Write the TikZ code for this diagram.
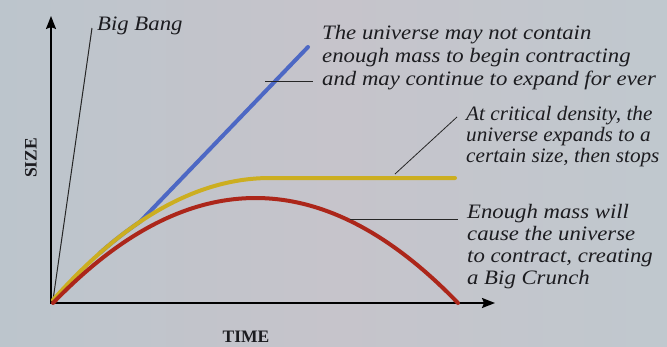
\documentclass[tikz,border=0pt]{standalone}
\usepackage{fontspec}
\setmainfont{Liberation Serif}
\newfontfamily\lblfont{Liberation Serif}[FakeStretch=1.11]
\newfontfamily\lblfontn{Liberation Serif}[FakeStretch=1.035]
\usetikzlibrary{arrows.meta}
\definecolor{bgL}{RGB}{188,197,204}
\definecolor{bgM}{RGB}{198,196,203}
\definecolor{bgR}{RGB}{192,200,206}
\definecolor{txt}{RGB}{28,28,32}
\definecolor{cblue}{RGB}{77,104,196}
\definecolor{cyellow}{RGB}{204,174,32}
\definecolor{cred}{RGB}{172,38,26}
\begin{document}
\begin{tikzpicture}[x=1pt,y=-1pt,
  axis/.style={line width=1.8pt, draw=black, {Stealth[length=13pt,width=10pt,inset=2pt]}-{Stealth[length=13pt,width=10pt,inset=2pt]}},
  curve/.style={line width=4pt, line cap=round, line join=round},
  leader/.style={line width=0.8pt, draw=black!85},
  lbl/.style={font=\lblfont\itshape\fontsize{20.5}{22}\selectfont, text=txt, inner sep=0pt, align=left, anchor=base west},
  axlbl/.style={font=\bfseries\fontsize{17.5}{20}\selectfont, text=txt, inner sep=0pt}]
\shade[left color=bgL, right color=bgR, middle color=bgM] (0,0) rectangle (667,346);
\useasboundingbox (0,0) rectangle (667,346);
% axes
\coordinate (O) at (51,303);
\coordinate (ytip) at (51,16);
\coordinate (xtip) at (495,303);
% Big Bang line
\coordinate (bbfoot) at (53,300);
\coordinate (bbtop) at (92,28);
\draw[line width=1pt, draw=black!85] (bbfoot) -- (bbtop);
\draw[axis] (ytip) -- (O) -- (xtip);
% curves
\coordinate (bend) at (308,47);
\draw[curve, draw=cblue] plot[domain=100:140, samples=12] (\x,{178+122*((270-\x)/217)^2}) -- (bend);
\draw[curve, draw=cyellow] plot[domain=53:270, samples=60] (\x,{178+122*((270-\x)/217)^2}) -- (455,178);
\draw[curve, draw=cred] plot[domain=53:458, samples=80] (\x,{198+105*((\x-255.5)/202.5)^2});
% labels (base anchor = baseline of last line)
\node[lbl] (bb) at (97,30) {Big Bang};
\node[lbl, font=\lblfont\itshape\fontsize{20.5}{23}\selectfont] (tblue) at (322,85) {The universe may not contain\\enough mass to begin contracting\\and may continue to expand for ever};
\node[lbl, font=\lblfontn\itshape\fontsize{20.5}{21}\selectfont] (tyel) at (466,162) {At critical density, the\\universe expands to a\\certain size, then stops};
\node[lbl, font=\lblfont\itshape\fontsize{20.5}{21.7}\selectfont] (tred) at (467,284) {Enough mass will\\cause the universe\\to contract, creating\\a Big Crunch};
\node[axlbl, rotate=90] (size) at (31,158) {SIZE};
\node[axlbl] (time) at (246,337) {TIME};
% leaders
\coordinate (lb1) at (265,81);
\coordinate (lb2) at (313,81);
\draw[leader] (lb1) -- (lb2);
\coordinate (ly1) at (395,174);
\coordinate (ly2) at (457,117);
\draw[leader] (ly1) -- (ly2);
\coordinate (lr1) at (350,219);
\coordinate (lr2) at (458,219);
\draw[leader] (lr1) -- (lr2);
\end{tikzpicture}
\end{document}
